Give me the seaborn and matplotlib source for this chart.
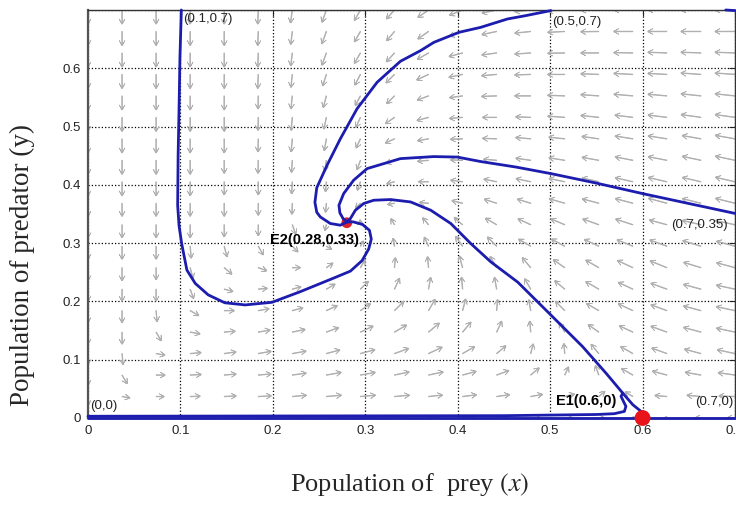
import numpy as np
import pandas as pd
import seaborn as sns
import matplotlib.pyplot as plt

# direction field (screen angle in degrees, 0 = right, 90 = up)
# rows go from y = 0.7 (top) down to y = 0, columns from x = 0 to x = 0.7
arrow_angle_deg = [
    [270, 270, 270, 270, 270, 268, 262, 250, 240, 228, 215, 202, 192, 186, 183, 181, 180, 180, 180, 180],
    [270, 270, 270, 270, 270, 268, 263, 250, 240, 230, 215, 200, 192, 186, 183, 181, 180, 180, 180, 180],
    [270, 270, 270, 270, 270, 268, 263, 250, 240, 228, 210, 195, 188, 184, 181, 180, 179, 178, 178, 178],
    [270, 270, 270, 270, 270, 268, 264, 252, 242, 225, 205, 192, 185, 182, 180, 178, 177, 177, 176, 176],
    [270, 270, 270, 270, 270, 269, 264, 255, 242, 225, 200, 188, 182, 180, 178, 176, 175, 175, 174, 174],
    [270, 270, 270, 270, 270, 269, 265, 258, 245, 215, 195, 185, 180, 178, 176, 174, 173, 173, 172, 172],
    [270, 270, 270, 270, 270, 269, 265, 260, 245, 205, 190, 182, 178, 175, 174, 172, 171, 171, 170, 170],
    [270, 270, 270, 270, 270, 269, 266, 262, 250, 200, 185, 178, 175, 172, 171, 170, 169, 169, 168, 168],
    [270, 270, 270, 270, 270, 270, 267, 265, 250, 195, 180, 172, 168, 168, 168, 167, 167, 167, 167, 167],
    [270, 270, 270, 270, 270, 270, 268, 265, 225, 190, 175, 166, 162, 163, 164, 165, 165, 165, 166, 166],
    [270, 270, 270, 270, 270, 270, 290, 255, 95, 120, 130, 140, 150, 155, 157, 160, 162, 165, 167, 168],
    [270, 270, 270, 275, 285, 300, 315, 330, 60, 100, 115, 125, 135, 150, 152, 155, 158, 160, 163, 165],
    [270, 270, 270, 285, 320, 340, 0, 35, 60, 85, 95, 105, 120, 130, 145, 150, 155, 158, 163, 165],
    [270, 270, 270, 290, 345, 5, 15, 30, 45, 65, 80, 95, 100, 120, 140, 150, 155, 160, 165, 168],
    [270, 270, 275, 330, 0, 10, 15, 25, 35, 45, 60, 75, 85, 100, 135, 150, 155, 160, 165, 168],
    [270, 270, 300, 350, 5, 10, 12, 20, 25, 30, 40, 50, 65, 95, 120, 145, 155, 160, 165, 168],
    [270, 275, 350, 5, 8, 10, 10, 15, 15, 20, 25, 30, 40, 75, 95, 130, 150, 160, 165, 168],
    [270, 300, 0, 3, 5, 5, 8, 10, 10, 12, 12, 15, 20, 40, 65, 110, 150, 165, 170, 172],
    [270, 350, 0, 2, 3, 3, 5, 5, 5, 5, 6, 7, 8, 10, 15, 40, 150, 175, 175, 178],
    [0, 0, 0, 0, 0, 0, 0, 0, 0, 0, 0, 0, 0, 0, 0, 0, 0, 180, 180, 180],
]

# drawn arrow lengths in pixels, same layout
arrow_length = [
    [14, 14, 14, 14, 14, 14, 13, 13, 12, 12, 13, 14, 15, 16, 17, 18, 19, 19, 20, 20],
    [14, 14, 14, 14, 14, 14, 13, 13, 12, 12, 13, 14, 15, 16, 17, 18, 19, 19, 20, 20],
    [14, 14, 14, 14, 14, 14, 13, 13, 12, 12, 13, 14, 15, 16, 17, 18, 19, 19, 20, 20],
    [14, 14, 14, 14, 14, 14, 13, 12, 12, 12, 13, 14, 15, 16, 17, 18, 19, 19, 20, 20],
    [14, 14, 14, 14, 14, 13, 13, 12, 11, 11, 12, 13, 15, 16, 17, 18, 19, 19, 20, 20],
    [14, 14, 14, 14, 14, 13, 13, 12, 11, 11, 12, 13, 14, 15, 17, 18, 18, 19, 20, 20],
    [14, 14, 14, 14, 14, 13, 13, 12, 10, 10, 11, 12, 14, 15, 16, 17, 18, 19, 19, 20],
    [14, 14, 14, 14, 13, 13, 12, 11, 10, 9, 11, 12, 13, 15, 16, 17, 18, 19, 19, 20],
    [14, 14, 14, 14, 13, 13, 12, 10, 9, 8, 10, 12, 13, 15, 16, 17, 18, 19, 19, 20],
    [13, 13, 13, 13, 13, 12, 11, 9, 7, 7, 9, 11, 13, 14, 16, 17, 18, 19, 19, 20],
    [13, 13, 13, 13, 12, 11, 10, 6, 5, 7, 9, 11, 13, 14, 15, 17, 18, 18, 19, 20],
    [13, 13, 13, 12, 11, 10, 8, 6, 6, 8, 10, 12, 13, 14, 15, 16, 17, 18, 19, 19],
    [13, 13, 12, 11, 10, 9, 8, 8, 9, 10, 11, 12, 13, 13, 14, 15, 17, 18, 18, 19],
    [12, 12, 12, 10, 9, 9, 9, 10, 11, 12, 12, 12, 12, 12, 13, 15, 16, 17, 18, 19],
    [12, 12, 11, 10, 10, 11, 11, 12, 12, 13, 13, 12, 11, 11, 13, 14, 16, 17, 18, 19],
    [12, 12, 10, 10, 11, 12, 13, 13, 14, 14, 14, 13, 12, 11, 11, 13, 15, 17, 18, 19],
    [11, 11, 9, 11, 12, 13, 14, 14, 15, 15, 15, 14, 12, 10, 10, 12, 14, 16, 17, 18],
    [10, 10, 9, 11, 12, 13, 14, 15, 15, 15, 15, 14, 13, 11, 9, 10, 13, 15, 16, 17],
    [9, 8, 8, 10, 12, 13, 14, 15, 15, 15, 14, 14, 13, 12, 10, 8, 9, 12, 14, 16],
    [0, 6, 9, 11, 12, 13, 14, 14, 14, 14, 13, 12, 11, 10, 8, 6, 3, 3, 6, 8],
]

# trajectories (prey x, predator y)
traj_a_x = [0.101, 0.0995, 0.0985, 0.0975, 0.097, 0.0985, 0.1013, 0.107, 0.116, 0.130, 0.148,
            0.170, 0.199, 0.2296, 0.2657, 0.2839, 0.2965, 0.3037, 0.3065, 0.3045, 0.297, 0.287, 0.2803]
traj_a_y = [0.700, 0.620, 0.530, 0.450, 0.365, 0.330, 0.2995, 0.2538, 0.231, 0.2113, 0.1977,
            0.194, 0.1985, 0.2167, 0.240, 0.252, 0.270, 0.290, 0.307, 0.322, 0.332, 0.3365, 0.3365]

traj_b_x = [0.5008, 0.4725, 0.4538, 0.4248, 0.4013, 0.3742, 0.3598, 0.338, 0.3128, 0.2911,
            0.273, 0.2586, 0.2475, 0.2455, 0.2475, 0.2513, 0.2621, 0.273, 0.2803]
traj_b_y = [0.699, 0.690, 0.6846, 0.6702, 0.6617, 0.6445, 0.6303, 0.612, 0.576, 0.5306,
            0.479, 0.4335, 0.395, 0.370, 0.353, 0.345, 0.3337, 0.3308, 0.3365]

traj_c_x = [0.700, 0.650, 0.600, 0.550, 0.5008, 0.4628, 0.4248, 0.3995, 0.374, 0.338, 0.302,
            0.2874, 0.2766, 0.2715, 0.2725, 0.276, 0.2803]
traj_c_y = [0.351, 0.368, 0.385, 0.403, 0.4193, 0.4306, 0.440, 0.4477, 0.4485, 0.445, 0.4279,
            0.408, 0.385, 0.365, 0.352, 0.342, 0.3365]

traj_d_x = [0.600, 0.5984, 0.5894, 0.5785, 0.5604, 0.5351, 0.4989, 0.465, 0.4357, 0.414, 0.3925,
            0.3708, 0.349, 0.3272, 0.3091, 0.2983, 0.2893, 0.2839, 0.2803]
traj_d_y = [0.000, 0.0113, 0.0228, 0.0428, 0.077, 0.1225, 0.1797, 0.233, 0.268, 0.2995, 0.3337,
            0.3565, 0.3707, 0.3748, 0.3736, 0.368, 0.3565, 0.3423, 0.3365]

traj_e_x = [0.0, 0.45, 0.55, 0.5694, 0.5803, 0.582, 0.5767, 0.5785]
traj_e_y = [0.003, 0.004, 0.006, 0.0074, 0.0113, 0.0199, 0.037, 0.0428]

traj_axis_x = [0.0, 0.7]
traj_axis_y = [0.0, 0.0]

traj_corner_x = [0.700, 0.690]
traj_corner_y = [0.699, 0.700]

eq_x = [0.6, 0.28]
eq_y = [0.0, 0.335]

point_labels = ["(0.1,0.7)", "(0.5,0.7)", "(0.7,0.35)", "(0.7,0)", "(0,0)"]
point_label_x = [0.1027, 0.502, 0.6926, 0.698, 0.002]
point_label_y = [0.685, 0.679, 0.331, 0.028, 0.020]

eq_labels = ["E2(0.28,0.33)", "E1(0.6,0)"]
eq_label_x = [0.1965, 0.506]
eq_label_y = [0.305, 0.0285]

tick_vals = [0, 0.1, 0.2, 0.3, 0.4, 0.5, 0.6, 0.7]
x_tick_labels = ["0", "0.1", "0.2", "0.3", "0.4", "0.5", "0.6", "0.7"]
y_tick_labels = ["0", "0.1", "0.2", "0.3", "0.4", "0.5", "0.6", ""]

sns.set_theme(style="white")
plt.rcParams['font.family'] = ['Liberation Sans', 'DejaVu Sans']
plt.rcParams['mathtext.fontset'] = 'stix'

blue = '#1c1cae'
arrow_grey = '#b0b0b0'

fig = plt.figure(figsize=(7.36, 5.25), dpi=100)
ax = fig.add_axes([88 / 736, 107 / 525, 647 / 736, 408 / 525])

# direction field
grid_x = np.linspace(0, 0.7, 20)
grid_y = np.linspace(0.7, 0, 20)
X, Y = np.meshgrid(grid_x, grid_y)
ang = np.deg2rad(np.array(arrow_angle_deg, dtype=float))
ln = np.array(arrow_length, dtype=float)
ln = np.ma.masked_equal(ln, 0)
ax.quiver(X, Y, ln * np.cos(ang), ln * np.sin(ang), angles='uv',
          scale_units='dots', scale=1, units='dots', width=0.7,
          headwidth=8, headlength=7, headaxislength=0,
          color=arrow_grey, edgecolor=arrow_grey, linewidth=0.5, zorder=1)

# trajectories
curves = {
    'a': (traj_a_x, traj_a_y), 'b': (traj_b_x, traj_b_y), 'c': (traj_c_x, traj_c_y),
    'd': (traj_d_x, traj_d_y), 'e': (traj_e_x, traj_e_y), 'axis': (traj_axis_x, traj_axis_y),
    'corner': (traj_corner_x, traj_corner_y),
}
traj = pd.concat([pd.DataFrame({'x': cx, 'y': cy, 'curve': name})
                  for name, (cx, cy) in curves.items()], ignore_index=True)

# equilibrium points
sns.scatterplot(x=eq_x[1:], y=eq_y[1:], s=60, color='#e0202a', edgecolor='none',
                ax=ax, zorder=2, legend=False)
sns.lineplot(data=traj, x='x', y='y', units='curve', estimator=None, sort=False,
             color=blue, linewidth=2.0, ax=ax, zorder=3, legend=False, clip_on=False,
             solid_joinstyle='round', solid_capstyle='round')
sns.scatterplot(x=eq_x[:1], y=eq_y[:1], s=130, color='#e8141a', edgecolor='none',
                ax=ax, zorder=4, legend=False, clip_on=False)

for t, tx, ty in zip(point_labels, point_label_x, point_label_y):
    ha = 'right' if tx > 0.6 else 'left'
    ax.text(tx, ty, t, fontsize=9.5, color='#222222', ha=ha, va='center', zorder=5)
for t, tx, ty in zip(eq_labels, eq_label_x, eq_label_y):
    ax.text(tx, ty, t, fontsize=10.5, fontweight='bold', color='black',
            ha='left', va='center', zorder=5)

ax.set_xlim(0, 0.7)
ax.set_ylim(0, 0.7)
ax.set_xticks(tick_vals)
ax.set_xticklabels(x_tick_labels)
ax.set_yticks(tick_vals)
ax.set_yticklabels(y_tick_labels)
ax.tick_params(direction='in', length=4, width=0.8, top=True, right=True,
               labelsize=9.5, pad=5, colors='#222222')
ax.grid(True, linestyle=':', color='black', linewidth=0.9)
ax.set_axisbelow(True)
for side in ax.spines.values():
    side.set_color('#333333')
    side.set_linewidth(1.0)
ax.spines['left'].set_linewidth(1.6)
ax.spines['left'].set_color('#555555')

ax.set_xlabel(r'Population of  prey $(x)$', fontsize=19, family='Liberation Serif')
ax.xaxis.label.set_va('center')
ax.xaxis.set_label_coords(0.4977, -0.162)
ax.set_ylabel('Population of predator (y)', fontsize=19.5, family='Liberation Serif')
ax.yaxis.label.set_va('center')
ax.yaxis.set_label_coords(-0.102, 0.375)

fig.savefig('out.png', dpi=100, facecolor='white')
